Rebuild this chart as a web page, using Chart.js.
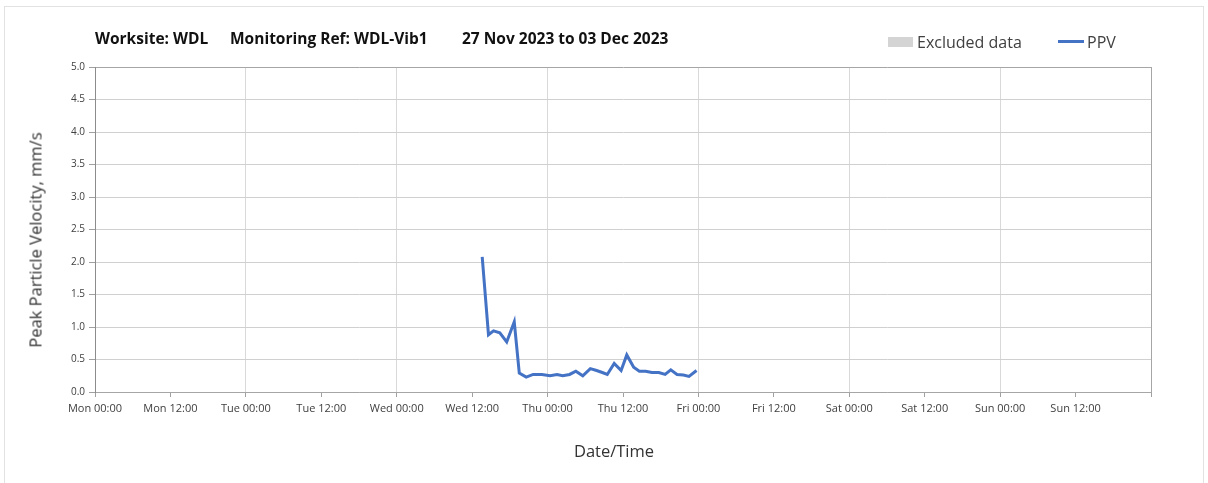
<!DOCTYPE html>
<html>
<head>
<meta charset="utf-8">
<script src="https://cdn.jsdelivr.net/npm/chart.js@4.4.0/dist/chart.umd.min.js"></script>
<style>
  body { margin: 0; background: #fff; font-family: "Open Sans", "Noto Sans", sans-serif; }
  #wrap { position: relative; width: 1208px; height: 483px; overflow: hidden; }
  #frame { position: absolute; left: 4px; top: 6px; width: 1198px; height: 480px; border: 1px solid #e2e2e2; }
  #chart { position: absolute; left: 0; top: 0; }
  .title { position: absolute; top: 27px; font-weight: bold; font-size: 15.5px; color: #111; white-space: pre; }
  .legend { position: absolute; top: 31px; font-size: 16px; color: #404040; }
  .swatch { position: absolute; }
  .axis-title { position: absolute; font-size: 16.5px; color: #333; white-space: pre; }
  #ytitle { left: 35px; top: 240px; transform: translate(-50%, -50%) rotate(-90deg); }
  #xtitle { left: 614px; top: 450px; transform: translate(-50%, -50%); }
</style>
</head>
<body>
<div id="wrap">
  <div id="frame"></div>
  <canvas id="chart" width="1208" height="483"></canvas>
  <div class="title" style="left:95px">Worksite: WDL</div>
  <div class="title" style="left:230px">Monitoring Ref: WDL-Vib1</div>
  <div class="title" style="left:462px">27 Nov 2023 to 03 Dec 2023</div>
  <div class="swatch" style="left:888px; top:37px; width:25px; height:10px; background:#d4d4d4"></div>
  <div class="legend" style="left:917px">Excluded data</div>
  <div class="swatch" style="left:1058px; top:40px; width:26px; height:3px; background:#4472c4"></div>
  <div class="legend" style="left:1087px">PPV</div>
  <div class="axis-title" id="ytitle">Peak Particle Velocity, mm/s</div>
  <div class="axis-title" id="xtitle">Date/Time</div>
</div>
<script>
// hours since Mon 27 Nov 2023 00:00
const hoursFromMon = [61.6, 62.6, 63.4, 64.4, 65.5, 66.7, 67.5, 68.6, 69.7, 71.1,
  72.4, 73.5, 74.4, 75.5, 76.5, 77.6, 78.8, 79.8, 80.7, 81.5,
  82.6, 83.7, 84.6, 85.7, 86.6, 87.6, 88.6, 89.7, 90.7, 91.6,
  92.6, 93.6, 94.5, 95.7];
// PPV, mm/s
const ppv = [2.08, 0.88, 0.94, 0.91, 0.77, 1.08, 0.29, 0.23, 0.27, 0.27,
  0.25, 0.27, 0.25, 0.27, 0.32, 0.25, 0.36, 0.33, 0.30, 0.27,
  0.44, 0.33, 0.57, 0.38, 0.32, 0.32, 0.30, 0.30, 0.27, 0.34,
  0.27, 0.26, 0.24, 0.33];
const xTickLabels = ["Mon 00:00", "Mon 12:00", "Tue 00:00", "Tue 12:00", "Wed 00:00", "Wed 12:00",
  "Thu 00:00", "Thu 12:00", "Fri 00:00", "Fri 12:00", "Sat 00:00", "Sat 12:00",
  "Sun 00:00", "Sun 12:00", ""];

const points = hoursFromMon.map((h, i) => ({ x: h, y: ppv[i] }));

const ctx = document.getElementById("chart").getContext("2d");
new Chart(ctx, {
  type: "line",
  data: {
    datasets: [{
      label: "PPV",
      data: points,
      borderColor: "#4472c4",
      borderWidth: 3,
      pointRadius: 0,
      tension: 0,
      fill: false
    }]
  },
  options: {
    responsive: false,
    animation: false,
    layout: { padding: { left: 0, top: 67, right: 57, bottom: 0 } },
    plugins: { legend: { display: false }, tooltip: { enabled: false } },
    scales: {
      x: {
        type: "linear",
        min: 0,
        max: 168,
        afterFit: s => { s.height = 91; },
        ticks: {
          stepSize: 12,
          autoSkip: false,
          maxRotation: 0,
          padding: 5,
          color: "#404040",
          font: { family: "Open Sans", size: 11 },
          callback: v => xTickLabels[v / 12]
        },
        grid: {
          color: c => c.tick.value === 168 ? "#a6a6a6" : (c.tick.value % 24 === 0 ? "#d9d9d9" : "rgba(0,0,0,0)"),
          tickColor: "#a0a0a0",
          tickLength: 5
        },
        border: { color: "#a6a6a6", width: 1 }
      },
      y: {
        min: 0,
        max: 5,
        afterFit: s => { s.width = 95; },
        ticks: {
          stepSize: 0.5,
          padding: 4,
          color: "#404040",
          font: { family: "Open Sans", size: 10 },
          callback: v => v.toFixed(1)
        },
        grid: {
          color: c => c.tick.value === 5 ? "#a6a6a6" : "#d0d0d0",
          tickColor: "#a0a0a0",
          tickLength: 6
        },
        border: { color: "#8c8c8c", width: 1 }
      }
    }
  }
});
</script>
</body>
</html>
